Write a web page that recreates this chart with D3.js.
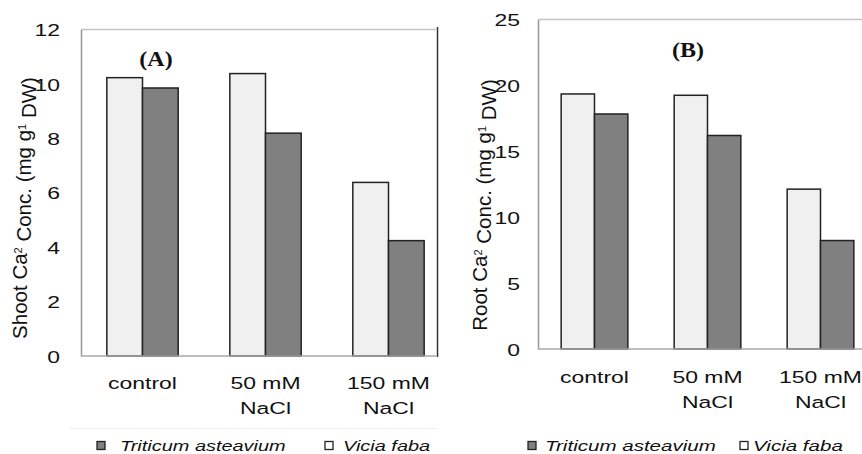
<!DOCTYPE html>
<html>
<head>
<meta charset="utf-8">
<script src="https://cdn.jsdelivr.net/npm/d3@7"></script>
<style>
  html, body { margin: 0; padding: 0; background: #fff; }
  svg { display: block; }
  text { font-family: "Liberation Sans", Arial, sans-serif; fill: #111; }
</style>
</head>
<body>
<svg id="chart" width="862" height="454"></svg>
<script>
// ---- data ----
const categories = ["control", "50 mM NaCl", "150 mM NaCl"];
const categoryLines = [["control"], ["50 mM", "NaCl"], ["150 mM", "NaCl"]];
const seriesNames = ["Vicia faba", "Triticum asteavium"];
const legendOrder = ["Triticum asteavium", "Vicia faba"];
const shootVicia = [10.23, 10.38, 6.38];
const shootTriticum = [9.85, 8.19, 4.24];
const rootVicia = [19.35, 19.25, 12.13];
const rootTriticum = [17.83, 16.2, 8.23];
const shootTicks = [0, 2, 4, 6, 8, 10, 12];
const rootTicks = [0, 5, 10, 15, 20, 25];

const colors = { "Vicia faba": "#f0f0f0", "Triticum asteavium": "#808080" };
const SX = 1.35; // horizontal stretch of text seen in the picture

const svg = d3.select("#chart");
const defs = svg.append("defs");

function panel(cfg) {
  const clipId = "clip" + cfg.id;
  defs.append("clipPath").attr("id", clipId)
    .append("rect").attr("x", cfg.clipX0).attr("y", 0)
    .attr("width", cfg.clipX1 - cfg.clipX0).attr("height", 454);
  const g = svg.append("g").attr("clip-path", `url(#${clipId})`);

  const y = d3.scaleLinear().domain([0, cfg.max]).range([cfg.bottom, cfg.top]);
  const x0 = d3.scaleBand().domain(categories).range([cfg.left, cfg.right])
    .paddingInner(cfg.pad).paddingOuter(cfg.pad / 2);
  const x1 = d3.scaleBand().domain(seriesNames).range([0, x0.bandwidth()]);

  // plot frame: top line
  g.append("line").attr("x1", cfg.left).attr("x2", cfg.clipX1)
    .attr("y1", cfg.top).attr("y2", cfg.top)
    .attr("stroke", "#c4c4c4").attr("stroke-width", 1.5);

  // bars
  const rows = categories.map((c, i) => ({ cat: c, vals: [
    { s: "Vicia faba", v: cfg.vicia[i] },
    { s: "Triticum asteavium", v: cfg.triticum[i] }] }));
  const grp = g.selectAll("g.cat").data(rows).join("g")
    .attr("transform", d => `translate(${x0(d.cat)},0)`);
  grp.selectAll("rect").data(d => d.vals).join("rect")
    .attr("x", d => x1(d.s))
    .attr("y", d => y(d.v))
    .attr("width", x1.bandwidth())
    .attr("height", d => y(0) - y(d.v))
    .attr("fill", d => colors[d.s])
    .attr("stroke", "#222").attr("stroke-width", 1.5);

  // y axis
  const ax = d3.axisLeft(y).tickValues(cfg.ticks).tickSize(0).tickSizeOuter(0).tickPadding(0);
  const axg = g.append("g").attr("transform", `translate(${cfg.left},0)`).call(ax);
  axg.select(".domain").attr("stroke", "#999").attr("stroke-width", 1.5);
  axg.selectAll("text")
    .attr("x", -cfg.tickGap / SX).attr("dy", "0.36em")
    .attr("transform", `scale(${SX},1)`)
    .style("font-family", "'Liberation Sans', Arial, sans-serif")
    .style("font-size", "17px").attr("fill", "#111");

  // baseline
  g.append("line").attr("x1", cfg.left).attr("x2", cfg.clipX1)
    .attr("y1", y(0)).attr("y2", y(0))
    .attr("stroke", "#a8a8a8").attr("stroke-width", 1.5);

  // category labels
  categories.forEach((c, i) => {
    const cx = x0(c) + x0.bandwidth() / 2;
    categoryLines[i].forEach((ln, j) => {
      g.append("text")
        .attr("transform", `translate(${cx},${cfg.catY + j * 25}) scale(${SX},1)`)
        .attr("text-anchor", "middle").style("font-size", "17px").text(ln);
    });
  });

  // panel tag
  g.append("text")
    .attr("transform", `translate(${cfg.tagX},${cfg.tagY}) scale(1.2,1)`)
    .attr("text-anchor", "middle")
    .style("font-family", "'Liberation Serif', 'Times New Roman', serif")
    .style("font-weight", "bold").style("font-size", "20px").text(cfg.tag);

  // y label
  const yl = g.append("text")
    .attr("transform", `translate(${cfg.ylX},${cfg.ylY}) rotate(-90)`)
    .attr("text-anchor", "middle").style("font-size", "20.5px");
  yl.append("tspan").text(cfg.ylPrefix + " Ca");
  yl.append("tspan").attr("dy", "-0.45em").style("font-size", "11px").text("2");
  yl.append("tspan").attr("dy", "0.45em").text(" Conc. (mg g");
  yl.append("tspan").attr("dy", "-0.45em").style("font-size", "11px").text("1");
  yl.append("tspan").attr("dy", "0.45em").text(" DW)");

  // legend
  if (cfg.legendBox) {
    g.append("line").attr("x1", cfg.legendBox[0]).attr("x2", cfg.legendBox[1])
      .attr("y1", cfg.legendBox[2]).attr("y2", cfg.legendBox[2])
      .attr("stroke", "#ececec").attr("stroke-width", 1);
  }
  legendOrder.forEach((s, i) => {
    g.append("rect").attr("x", cfg.legSq[i]).attr("y", 441.5)
      .attr("width", 8).attr("height", 8)
      .attr("fill", colors[s] === "#f0f0f0" ? "#ffffff" : colors[s])
      .attr("stroke", "#222").attr("stroke-width", 1.3);
    g.append("text")
      .attr("transform", `translate(${cfg.legTx[i]},451) scale(${cfg.legSX},1)`)
      .style("font-style", "italic").style("font-size", "15px").text(s);
  });
}

panel({
  id: "A", left: 81, right: 450, top: 29.5, bottom: 356, max: 12, pad: 0.42,
  clipX0: 0, clipX1: 436, vicia: shootVicia, triticum: shootTriticum,
  ticks: shootTicks, tickGap: 21, catY: 389, tag: "(A)", tagX: 156, tagY: 66,
  ylPrefix: "Shoot", ylX: 27, ylY: 208,
  legSq: [97, 325], legTx: [120, 343], legSX: 1.33, legendBox: [70, 436, 428.5]
});

panel({
  id: "B", left: 538, right: 877, top: 19.5, bottom: 349, max: 25, pad: 0.41,
  clipX0: 438, clipX1: 862, vicia: rootVicia, triticum: rootTriticum,
  ticks: rootTicks, tickGap: 18, catY: 383, tag: "(B)", tagX: 688, tagY: 57,
  ylPrefix: "Root", ylX: 487, ylY: 205,
  legSq: [528, 740], legTx: [545, 753], legSX: 1.37, legendBox: null
});

// dark separator at the left edge of panel B
svg.append("line").attr("x1", 437.5).attr("x2", 437.5).attr("y1", 27).attr("y2", 357)
  .attr("stroke", "#333").attr("stroke-width", 1.5);
</script>
</body>
</html>
